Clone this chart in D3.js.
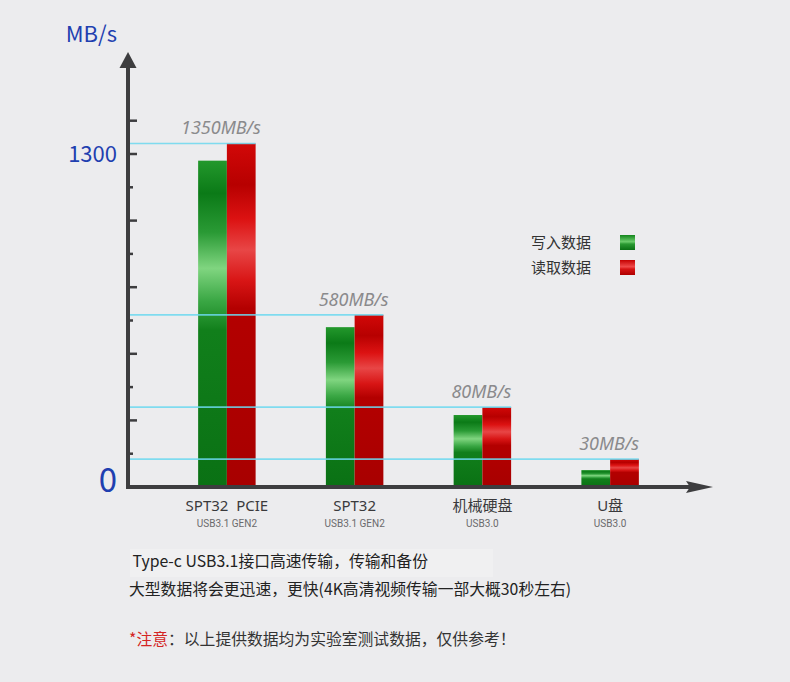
<!DOCTYPE html>
<html>
<head>
<meta charset="utf-8">
<script src="https://cdn.jsdelivr.net/npm/d3@7"></script>
<style>
  html, body { margin: 0; padding: 0; background: #ececee; }
  #chart { width: 790px; height: 682px; }
</style>
</head>
<body>
<div id="chart"></div>
<script>
// Chart data
const categories = ["SPT32  PCIE", "SPT32", "机械硬盘", "U盘"];
const interfaces = ["USB3.1 GEN2", "USB3.1 GEN2", "USB3.0", "USB3.0"];
const speedLabels = ["1350MB/s", "580MB/s", "80MB/s", "30MB/s"];
// bar heights as drawn against the y axis (the picture is not to scale with its labels)
const writeValues = [1274, 624, 281, 66];
const readValues = [1341, 672, 312, 109];
const seriesNames = ["写入数据", "读取数据"];
const yTickValues = [130, 260, 390, 520, 650, 780, 910, 1040, 1170, 1300, 1430];
const yLabelValues = [0, 1300];
const noteLines = [" Type-c USB3.1接口高速传输，传输和备份", "大型数据将会更迅速，更快(4K高清视频传输一部大概30秒左右)"];

function drawChart() {
    const width = 790, height = 682;
    const axisX = 128, cjk = "'Noto Sans CJK SC', 'Noto Sans', sans-serif";

    const svg = d3.select("#chart").append("svg")
        .attr("width", width)
        .attr("height", height);

    svg.append("rect").attr("width", width).attr("height", height).attr("fill", "#ececee");

    // Gradients for the glossy bars
    const defs = svg.append("defs");
    const addGradient = (id, stops) => {
        const g = defs.append("linearGradient").attr("id", id)
            .attr("x1", 0).attr("y1", 0).attr("x2", 0).attr("y2", 1);
        stops.forEach(s => g.append("stop").attr("offset", s[0]).attr("stop-color", s[1]));
    };
    addGradient("g-write", [[0, "#23982c"], [0.1, "#0b7a17"], [0.22, "#2a9a35"], [0.33, "#80d580"],
        [0.43, "#3aa744"], [0.52, "#117f1b"], [1, "#0a7114"]]);
    addGradient("g-read", [[0, "#d20808"], [0.12, "#b70000"], [0.22, "#dc1212"], [0.31, "#e84646"],
        [0.4, "#d81515"], [0.48, "#b30000"], [1, "#a80000"]]);
    addGradient("l-write", [[0, "#13851c"], [0.45, "#6ccd6c"], [0.6, "#2a9a32"], [1, "#0a7114"]]);
    addGradient("l-read", [[0, "#c40000"], [0.45, "#f04a4a"], [0.6, "#d81414"], [1, "#ae0000"]]);

    // Scales
    const x = d3.scaleBand().domain(categories).range([163, 674])
        .paddingInner(0.55).paddingOuter(0.275);
    const xs = d3.scaleBand().domain(["write", "read"]).range([0, x.bandwidth()]);
    const y = d3.scaleLinear().domain([0, 1300]).range([487, 154]);

    const rows = categories.map((c, i) => ({
        cat: c, sub: interfaces[i], label: speedLabels[i],
        write: writeValues[i], read: readValues[i]
    }));

    // Bars
    const groups = svg.append("g").selectAll("g")
        .data(rows).enter().append("g")
        .attr("transform", d => `translate(${x(d.cat)},0)`);

    groups.append("rect")
        .attr("x", xs("write")).attr("width", xs.bandwidth())
        .attr("y", d => y(d.write)).attr("height", d => y(0) - y(d.write))
        .attr("fill", "url(#g-write)");
    groups.append("rect")
        .attr("x", xs("read")).attr("width", xs.bandwidth())
        .attr("y", d => y(d.read)).attr("height", d => y(0) - y(d.read))
        .attr("fill", "url(#g-read)");

    // Cyan guide lines at read level
    svg.append("g").selectAll("line")
        .data(rows).enter().append("line")
        .attr("x1", axisX - 2)
        .attr("x2", d => x(d.cat) + x.bandwidth())
        .attr("y1", d => y(d.read)).attr("y2", d => y(d.read))
        .attr("stroke", "#6cd8ee").attr("stroke-opacity", 0.85)
        .attr("stroke-width", 1.6);

    // Value labels
    svg.append("g").selectAll("text")
        .data(rows).enter().append("text")
        .attr("x", (d, i) => x(d.cat) + x.bandwidth() / 2 - (i === 0 ? 6 : 1))
        .attr("y", d => y(d.read) - 9)
        .attr("text-anchor", "middle")
        .attr("font-family", "'Noto Sans', sans-serif")
        .attr("font-style", "italic")
        .attr("font-size", 18)
        .attr("fill", "#8a8a8c")
        .text(d => d.label);

    // Axes
    const axis = svg.append("g").attr("fill", "#3d3d3f").attr("stroke", "#3d3d3f");
    axis.append("line")
        .attr("x1", axisX).attr("x2", axisX).attr("y1", y(0) + 2).attr("y2", 64)
        .attr("stroke-width", 4);
    axis.append("path").attr("stroke", "none")
        .attr("d", `M${axisX},52 L${axisX + 8.5},68 L${axisX - 8.5},68 Z`);
    axis.append("line")
        .attr("x1", axisX - 2).attr("x2", 692).attr("y1", y(0)).attr("y2", y(0))
        .attr("stroke-width", 4);
    axis.append("path").attr("stroke", "none")
        .attr("d", `M713,${y(0)} L686,${y(0) - 6} L690,${y(0)} L686,${y(0) + 6} Z`);

    axis.append("g").selectAll("line")
        .data(yTickValues).enter().append("line")
        .attr("x1", axisX)
        .attr("x2", (d, i) => (i % 2 === 1 || i === yTickValues.length - 1) ? axisX + 9 : axisX + 5)
        .attr("y1", d => y(d)).attr("y2", d => y(d))
        .attr("stroke-width", 2.5);

    // Y labels
    svg.append("text")
        .attr("x", 117).attr("y", 42)
        .attr("text-anchor", "end")
        .attr("font-family", cjk).attr("font-size", 22)
        .attr("fill", "#1f3fb0")
        .text("MB/s");
    svg.append("g").selectAll("text")
        .data(yLabelValues).enter().append("text")
        .attr("x", 117)
        .attr("y", d => y(d) + (d === 0 ? 5 : 8))
        .attr("text-anchor", "end")
        .attr("font-family", cjk)
        .attr("font-size", d => d === 0 ? 33 : 22)
        .attr("fill", "#1f3fb0")
        .text(d => d);

    // Category labels
    const catLabels = svg.append("g").selectAll("g")
        .data(rows).enter().append("g")
        .attr("transform", d => `translate(${x(d.cat) + x.bandwidth() / 2},0)`);
    catLabels.append("text")
        .attr("y", 511).attr("text-anchor", "middle")
        .attr("font-family", "'Noto Sans', 'Noto Sans CJK SC', sans-serif").attr("font-size", 15)
        .attr("fill", "#3a3a3c")
        .style("white-space", "pre")
        .text(d => d.cat);
    catLabels.append("text")
        .attr("y", 527).attr("text-anchor", "middle")
        .attr("font-family", "Roboto, sans-serif").attr("font-size", 10)
        .attr("fill", "#6a6a6c")
        .text(d => d.sub);

    // Legend
    const legend = svg.append("g").selectAll("g")
        .data(seriesNames).enter().append("g")
        .attr("transform", (d, i) => `translate(0,${235 + i * 25})`);
    legend.append("text")
        .attr("x", 531).attr("y", 13)
        .attr("font-family", cjk).attr("font-size", 15)
        .attr("fill", "#333")
        .text(d => d);
    legend.append("rect")
        .attr("x", 620).attr("width", 15).attr("height", 15)
        .attr("fill", (d, i) => i === 0 ? "url(#l-write)" : "url(#l-read)");

    // Notes under the chart
    svg.append("rect")
        .attr("x", 130).attr("y", 549).attr("width", 363).attr("height", 28)
        .attr("fill", "#f0f0f1");
    svg.append("g").selectAll("text")
        .data(noteLines).enter().append("text")
        .attr("x", 129).attr("y", (d, i) => 567 + i * 28)
        .attr("font-family", cjk).attr("font-size", 15.8)
        .attr("fill", "#222")
        .style("white-space", "pre")
        .text(d => d);
    const note = svg.append("text")
        .attr("x", 129).attr("y", 645)
        .attr("font-family", cjk).attr("font-size", 15.8)
        .attr("fill", "#333");
    note.append("tspan").attr("fill", "#d42424").text("*注意");
    note.append("tspan").text("：以上提供数据均为实验室测试数据，仅供参考！");
}

document.addEventListener("DOMContentLoaded", drawChart);
</script>
</body>
</html>
